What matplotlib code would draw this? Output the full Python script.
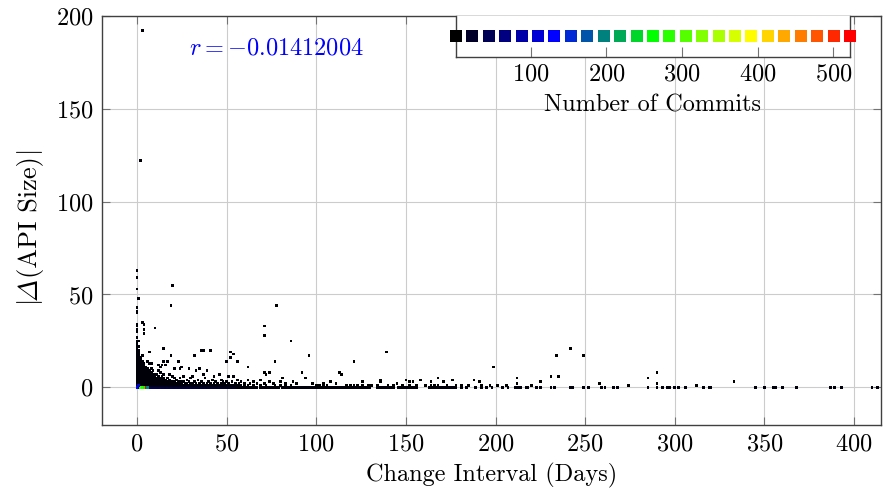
import numpy as np
import matplotlib
matplotlib.use("Agg")
import matplotlib.pyplot as plt
from matplotlib.colors import LinearSegmentedColormap, Normalize

plt.rcParams["font.family"] = "serif"
plt.rcParams["font.serif"] = ["cmr10"]
plt.rcParams["mathtext.fontset"] = "cm"
plt.rcParams["axes.formatter.use_mathtext"] = True

# ---- data -------------------------------------------------------------
# Dense cluster of short intervals: deltas observed for each interval (days)
cluster_days = [0, 1, 2, 3, 4, 5, 6, 7, 8, 9,
                10, 11, 12, 13, 14, 15, 16, 17, 18, 19,
                20, 21, 22, 23, 24, 25, 26, 27, 28, 29,
                30, 31, 32, 33, 34, 35, 36, 37, 38, 39,
                40, 41, 42, 43, 44, 45, 46, 47, 48, 49,
                50, 51, 52, 53, 54, 55, 56, 57, 58]
cluster_deltas = [
    [1, 2, 3, 4, 5, 6, 7, 8, 9, 10, 11, 12, 13, 14, 15, 16, 17, 18, 19, 20,
     21, 22, 23, 24, 25, 27, 30, 31, 33, 34, 40, 41, 43, 53, 59, 63],
    [1, 2, 3, 4, 5, 6, 7, 8, 9, 10, 11, 12, 13, 14, 15, 16, 17, 18, 19, 20,
     22, 25, 48],
    [1, 2, 3, 4, 5, 6, 7, 8, 9, 10, 11, 12, 13, 14, 15, 16, 122],
    [1, 2, 3, 4, 5, 6, 7, 8, 9, 10, 11, 12, 13, 14, 17, 35, 192],
    [1, 2, 3, 4, 5, 6, 7, 8, 9, 10, 11, 12, 13, 29, 31, 34],
    [1, 2, 3, 4, 5, 6, 7, 8, 9, 10, 11],
    [1, 2, 3, 4, 5, 6, 7, 8, 9, 10, 14],
    [1, 2, 3, 4, 5, 6, 7, 8, 9, 13, 19],
    [1, 2, 3, 4, 5, 6, 7, 8, 10, 13],
    [1, 2, 3, 4, 5, 6, 7, 9],
    [1, 2, 3, 4, 5, 6, 7, 32],
    [1, 2, 3, 4, 5, 7],
    [1, 2, 3, 4, 5, 6, 9, 12],
    [1, 2, 3, 4, 5, 8, 11],
    [1, 2, 3, 4, 6, 12],
    [1, 2, 3, 4, 5, 7, 14, 21],
    [1, 2, 3, 4, 12],
    [1, 2, 3, 5, 14],
    [1, 2, 3, 4, 7],
    [1, 2, 3, 17, 44],
    [1, 2, 3, 6, 55],
    [1, 2, 3, 5, 10],
    [1, 2, 4],
    [1, 2, 3, 14],
    [1, 2, 5, 10],
    [1, 2, 3, 11],
    [1, 3, 6],
    [1, 2],
    [1, 2, 4],
    [1, 3, 10],
    [1, 2, 5],
    [1, 2, 6],
    [1, 3, 17],
    [1, 2, 9],
    [1, 4],
    [1, 2, 10],
    [1, 3, 20],
    [1, 2, 7, 20],
    [1, 5],
    [1, 2, 9],
    [1, 3],
    [1, 2, 20],
    [1, 4],
    [1, 2, 6],
    [1, 3],
    [1, 2],
    [1, 7],
    [1, 2, 4],
    [1, 3],
    [1, 2],
    [1, 3, 14],
    [1, 2, 6],
    [1, 16, 19],
    [1, 3],
    [1, 6, 18],
    [1, 2],
    [1, 4, 14],
    [1, 2],
    [1, 3],
]
cluster_commits = 6

# Sparse changes at longer intervals
tail_days = [60, 60, 62, 62, 62, 63, 65, 65, 67, 69,
             69, 71, 71, 71, 71, 72, 72, 74, 74, 76,
             77, 77, 78, 80, 80, 81, 83, 83, 86, 86,
             87, 89, 92, 94, 96, 98, 100, 102, 104, 104,
             106, 108, 111, 113, 114, 117, 119, 121, 121, 123,
             126, 126, 129, 131, 134, 136, 136, 139, 140, 143,
             145, 148, 150, 152, 152, 154, 156, 158, 161, 164,
             164, 166, 168, 168, 171, 173, 176, 178, 181, 185,
             188, 191, 192, 197, 199, 201, 206, 212, 212, 220,
             225, 231, 234, 235, 242, 249, 258, 274, 285, 290,
             290, 312, 333]
tail_deltas = [1, 2, 1, 4, 11, 2, 3, 1, 2, 4,
               1, 8, 28, 33, 2, 7, 1, 8, 3, 2,
               14, 1, 44, 3, 1, 5, 1, 2, 25, 1,
               3, 2, 8, 5, 17, 2, 1, 1, 2, 1,
               1, 3, 2, 8, 7, 1, 1, 14, 1, 1,
               3, 1, 1, 1, 1, 4, 3, 19, 1, 1,
               2, 1, 4, 3, 1, 3, 1, 4, 1, 3,
               1, 1, 5, 1, 3, 1, 4, 1, 1, 1,
               4, 3, 1, 1, 11, 1, 1, 5, 2, 1,
               3, 6, 17, 6, 21, 17, 2, 1, 5, 8,
               2, 1, 3]
tail_commits = 3

# Changes that left the API size unchanged (delta = 0)
busy_zero_days = [0, 1, 2, 3, 4, 5, 6, 7, 8, 9,
                  10, 11, 12, 13, 14, 15, 16, 17, 18, 19,
                  20, 21, 22, 23, 24, 25, 26, 27, 28, 29,
                  30, 31, 32, 33, 34, 35, 36, 37, 38, 39,
                  40, 41, 42, 43, 44, 45, 46, 47, 48, 49,
                  50, 51, 52, 53, 54, 55]
busy_zero_commits = [70, 58, 54, 56, 50, 52, 48, 50, 46, 48,
                     44, 46, 42, 44, 40, 43, 38, 42, 37, 41,
                     40, 36, 42, 37, 40, 34, 38, 36, 40, 32,
                     36, 34, 37, 31, 34, 29, 36, 31, 34, 27,
                     31, 29, 32, 26, 29, 24, 29, 26, 27, 22,
                     25, 22, 24, 20, 22, 18]
quiet_zero_days = [56, 57, 58, 59, 60, 61, 62, 63, 64, 65,
                   66, 67, 69, 70, 71, 72, 73, 74, 75, 76,
                   77, 78, 79, 81, 82, 83, 84, 85, 86, 87,
                   88, 89, 90, 91, 92, 93, 94, 95, 97, 98,
                   99, 100, 101, 102, 103, 104, 105, 106, 107, 108,
                   109, 110, 112, 113, 114, 115, 116, 117, 118, 119,
                   120, 121, 122, 123, 124, 126, 127, 128, 129, 130,
                   134, 135, 136, 137, 138, 139, 140, 141, 142, 143,
                   146, 147, 148, 149, 150, 151, 152, 153, 154, 155,
                   156, 163, 164, 165, 166, 167, 168, 169, 170, 171,
                   172, 173, 174, 175, 176, 177, 178, 181, 184, 189,
                   192, 195, 198, 204, 207, 211, 213, 214, 217, 218,
                   223, 225, 231, 233, 242, 243, 249, 252, 259, 261,
                   266, 268, 285, 290, 293, 296, 297, 300, 302, 306,
                   316, 319, 320, 345, 350, 355, 356, 360, 368, 387,
                   389, 393, 410, 413]
quiet_zero_commits = 8

# Most active files (many commits) right at the origin
hot_days = [0, 2, 3, 4, 5, 6, 1]
hot_deltas = [0, 0, 0, 0, 0, 0, 1]
hot_commits = [130, 300, 280, 260, 522, 200, 110]

commit_ticks = [100, 200, 300, 400, 500]
r_value = -0.01412004

# ---- assemble ---------------------------------------------------------
assert len(cluster_days) == len(cluster_deltas)
assert len(tail_days) == len(tail_deltas)
assert len(busy_zero_days) == len(busy_zero_commits)
cx = [d for d, ys in zip(cluster_days, cluster_deltas) for _ in ys]
cy = [y for ys in cluster_deltas for y in ys]

cmap = LinearSegmentedColormap.from_list(
    "commits", [(0.0, "black"), (0.25, "blue"), (0.5, "lime"),
                (0.75, "yellow"), (1.0, "red")])
all_commits = ([cluster_commits, tail_commits, quiet_zero_commits]
               + busy_zero_commits + hot_commits)
norm = Normalize(vmin=1, vmax=max(all_commits))

FS = 17.5
W, H = 883, 494
fig = plt.figure(figsize=(W / 100, H / 100), dpi=100)
ax = fig.add_axes([0.1155, 0.1397, 0.8822, 0.8285])

msize = 3.8
kw = dict(marker="s", s=msize, linewidths=0, cmap=cmap, norm=norm, zorder=3)
ax.scatter(quiet_zero_days, [0] * len(quiet_zero_days),
           c=[quiet_zero_commits] * len(quiet_zero_days), **kw)
ax.scatter(busy_zero_days, [0] * len(busy_zero_days), c=busy_zero_commits, **kw)
ax.scatter(cx, cy, c=[cluster_commits] * len(cx), **kw)
ax.scatter(tail_days, tail_deltas, c=[tail_commits] * len(tail_days), **kw)
ax.scatter(hot_days, hot_deltas, c=hot_commits, **kw)

ax.set_xlim(-19.5, 415)
ax.set_ylim(-20.3, 200.1)
ax.set_xticks([0, 50, 100, 150, 200, 250, 300, 350, 400])
ax.set_yticks([0, 50, 100, 150, 200])
ax.grid(True, color="0.8", linewidth=0.8, zorder=0)
ax.set_axisbelow(True)
ax.tick_params(direction="in", top=True, right=True, length=6, width=0.8,
               color="0.45", labelsize=FS, pad=6)
for s in ax.spines.values():
    s.set_color("0.25")
    s.set_linewidth(1.0)
ax.set_xlabel("Change Interval (Days)", fontsize=FS, labelpad=5)

# y label: upright text with an italic capital Delta (cmmi10 glyph slot)
ylab_parts = ["$|$", "\u00a2", "(API Size)", "$|$"]
ylab_fams = ["cmr10", "cmmi10", "cmr10", "cmr10"]
ylab_fs = FS + 1.5
renderer = fig.canvas.get_renderer()
widths = []
for s, f in zip(ylab_parts, ylab_fams):
    t = fig.text(0, 0, s, family=f, fontsize=ylab_fs)
    widths.append(t.get_window_extent(renderer).width)
    t.remove()
y0 = (H - 228) - sum(widths) / 2
for s, f, w in zip(ylab_parts, ylab_fams, widths):
    fig.text(37 / W, y0 / H, s, family=f, fontsize=ylab_fs, rotation=90,
             rotation_mode="anchor", ha="left", va="baseline")
    y0 += w

ax.text(77.7, 182.7, rf"$r = {r_value:.8f}$", color="blue", fontsize=FS,
        ha="center", va="center")

# colour scale legend drawn inside the plot
cax = fig.add_axes([0.5164, 0.8852, 0.4462, 0.0830])
cax.set_facecolor("white")
levels = np.linspace(norm.vmin, norm.vmax, 25)
cax.scatter(levels, np.zeros_like(levels), c=levels, cmap=cmap, norm=norm,
            marker="s", s=75, linewidths=0, clip_on=False, zorder=3)
cax.set_xlim(norm.vmin, norm.vmax)
cax.set_ylim(-1, 1)
cax.set_yticks([])
cax.set_xticks(commit_ticks)
cax.tick_params(direction="in", length=7, width=0.8, color="0.45",
                labelsize=FS, pad=5)
cax.spines["top"].set_visible(False)
for s in ["left", "right", "bottom"]:
    cax.spines[s].set_color("0.25")
    cax.spines[s].set_linewidth(1.0)
cax.set_xlabel("Number of Commits", fontsize=FS, labelpad=6)

fig.savefig("out.png", dpi=100)
